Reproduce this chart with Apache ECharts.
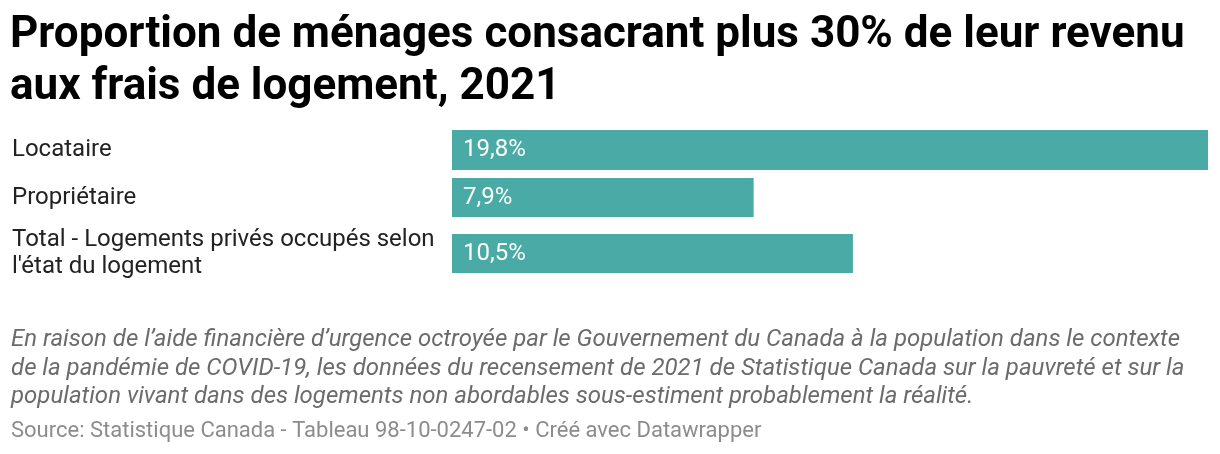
<!DOCTYPE html>
<html>
<head>
<meta charset="utf-8">
<script src="https://cdn.jsdelivr.net/npm/echarts@6/dist/echarts.min.js"></script>
<style>
  html, body { margin: 0; padding: 0; background: #fff; }
  #main { width: 1220px; height: 454px; }
</style>
</head>
<body>
<div id="main"></div>
<script>
// données
var categories = ['Locataire', 'Propriétaire', 'Total - Logements privés occupés selon\nl\'état du logement']
var values = [19.8, 7.9, 10.5]
var barColor = '#4aaba6'

// position de chaque barre (grilles séparées comme dans Datawrapper)
var rows = [
  { top: 130, height: 40 },
  { top: 178, height: 39 },
  { top: 234, height: 39 }
]

var myChart = echarts.init(document.getElementById('main'), null, { renderer: 'canvas' })

var grids = [], xAxes = [], yAxes = [], series = []
for (var i = 0; i < categories.length; i++) {
  grids.push({ left: 452, right: 12, top: rows[i].top, height: rows[i].height, containLabel: false })
  xAxes.push({ type: 'value', gridIndex: i, min: 0, max: 19.8, show: false })
  yAxes.push({
    type: 'category', gridIndex: i, data: [categories[i]],
    axisLine: { show: false }, axisTick: { show: false }, splitLine: { show: false },
    axisLabel: {
      align: 'left', margin: 440, color: '#222', fontSize: 24, lineHeight: 27.5,
      fontFamily: 'Roboto', padding: [7, 0, 0, 0]
    }
  })
  series.push({
    type: 'bar', xAxisIndex: i, yAxisIndex: i, data: [values[i]],
    barWidth: rows[i].height, itemStyle: { color: barColor }, silent: true,
    label: {
      show: true, position: 'insideLeft', distance: 11, color: '#fff',
      fontSize: 24, fontFamily: 'Roboto', padding: [5, 0, 0, 0],
      formatter: function (p) { return String(p.value).replace('.', ',') + '%' }
    }
  })
}

myChart.setOption({
  animation: false,
  title: [{
    text: 'Proportion de ménages consacrant plus 30% de leur revenu\naux frais de logement, 2021',
    left: 10, top: 10, padding: 0,
    textStyle: { fontFamily: 'Roboto', fontWeight: 'bold', fontSize: 44, lineHeight: 52, color: '#000' }
  }, {
    text: 'En raison de l\u2019aide financière d\u2019urgence octroyée par le Gouvernement du Canada à la population dans le contexte\nde la pandémie de COVID-19, les données du recensement de 2021 de Statistique Canada sur la pauvreté et sur la\npopulation vivant dans des logements non abordables sous-estiment probablement la réalité.',
    left: 11, top: 326, padding: 0,
    textStyle: { fontFamily: 'Roboto', fontStyle: 'italic', fontWeight: 'normal', fontSize: 24, lineHeight: 28.5, color: '#6b6b6b' }
  }, {
    text: 'Source: Statistique Canada - Tableau 98-10-0247-02 \u2022 Créé avec Datawrapper',
    left: 11, top: 419, padding: 0,
    textStyle: { fontFamily: 'Roboto', fontWeight: 'normal', fontSize: 22, lineHeight: 24, color: '#8c8c8c' }
  }],
  grid: grids,
  xAxis: xAxes,
  yAxis: yAxes,
  series: series
})
</script>
</body>
</html>
